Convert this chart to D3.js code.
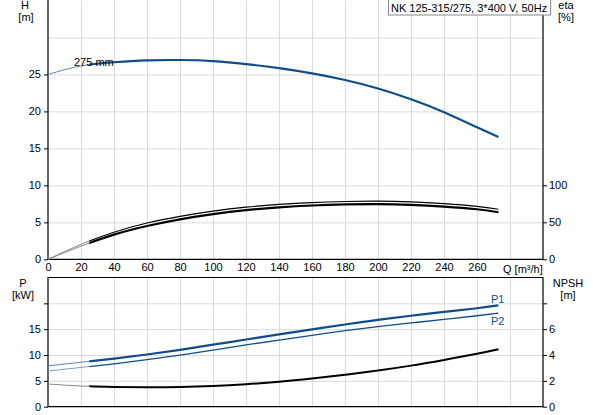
<!DOCTYPE html>
<html>
<head>
<meta charset="utf-8">
<script src="https://cdn.jsdelivr.net/npm/d3@7"></script>
<style>
  body { margin: 0; background: #fff; }
  svg { display: block; font-family: "Liberation Sans", Arial, sans-serif; }
  .grid line { stroke: #dadada; stroke-width: 1; }
  .grid path { display: none; }
  .ax path, .ax line { stroke: #000; }
  .ax text { font-size: 11px; fill: #000; }
</style>
</head>
<body>
<svg id="chart" width="593" height="415"></svg>
<script>
// curve data
const qValues   = [0, 20, 40, 60, 80, 100, 120, 140, 160, 180, 200, 220, 240, 260, 273];
const headValues = [25, 26.15, 26.65, 26.9, 26.95, 26.8, 26.4, 25.85, 25.15, 24.25, 23.1, 21.65, 19.9, 17.85, 16.55];
const etaUpper  = [0, 20.2, 36.6, 49, 58, 65, 70.4, 74.2, 76.7, 78.1, 78.5, 77.6, 75.3, 71.6, 67.6];
const etaLower  = [0, 17.8, 33.4, 45, 54, 61, 66.4, 70.2, 72.7, 74.1, 74.5, 73.6, 71.3, 67.6, 63.6];
const p1Values  = [7.9, 8.6, 9.3, 10.1, 11.0, 12.0, 13.0, 14.0, 14.95, 15.9, 16.8, 17.6, 18.35, 19.05, 19.6];
const p2Values  = [6.9, 7.6, 8.3, 9.1, 10.0, 10.95, 11.95, 12.9, 13.8, 14.7, 15.5, 16.2, 16.9, 17.6, 18.1];
const npshValues = [1.76, 1.6, 1.53, 1.5, 1.52, 1.6, 1.74, 1.93, 2.18, 2.47, 2.8, 3.18, 3.62, 4.1, 4.45];

const qTicks    = [0, 20, 40, 60, 80, 100, 120, 140, 160, 180, 200, 220, 240, 260];
const qGrid     = [20, 40, 60, 80, 100, 120, 140, 160, 180, 200, 220, 240, 260, 280];
const hTicks    = [0, 5, 10, 15, 20, 25];
const hGrid     = [5, 10, 15, 20, 25, 30];
const etaTicks  = [0, 50, 100];
const pTicks    = [0, 5, 10, 15, 20];
const npshTicks = [0, 2, 4, 6, 8];
const qMinRun = 25;   // curves are thin below this flow

const title = "NK 125-315/275, 3*400 V, 50Hz";

const svg = d3.select("#chart");
const left = 48, right = 543;

const x = d3.scaleLinear().domain([0, 300]).range([left, right]);
const yH = d3.scaleLinear().domain([0, 35]).range([259.3, 0.5]);
const yEta = d3.scaleLinear().domain([0, 100]).range([259.3, 185.3]);
const yP = d3.scaleLinear().domain([0, 25]).range([406.7, 277.5]);
const yNpsh = d3.scaleLinear().domain([0, 10]).range([406.7, 277.5]);

// grids
function drawGrid(yScale, yVals, top, bottom) {
    svg.append("g").attr("class", "grid")
        .attr("transform", `translate(0,${bottom})`)
        .call(d3.axisBottom(x).tickValues(qGrid).tickSize(-(bottom - top)).tickFormat(""));
    svg.append("g").attr("class", "grid")
        .attr("transform", `translate(${left},0)`)
        .call(d3.axisLeft(yScale).tickValues(yVals).tickSize(-(right - left)).tickFormat(""));
}
drawGrid(yH, hGrid, 0.5, 259.3);
drawGrid(yP, [5, 10, 15, 20], 277.5, 406.7);

// axes
function axis(gen, tx, ty) {
    const g = svg.append("g").attr("class", "ax")
        .attr("transform", `translate(${tx},${ty})`).call(gen);
    g.select(".domain").remove();
    return g;
}
axis(d3.axisLeft(yH).tickValues(hTicks).tickSize(4).tickPadding(3), left, 0);
axis(d3.axisRight(yEta).tickValues(etaTicks).tickSize(4).tickPadding(2), right, 0);
axis(d3.axisLeft(yP).tickValues(pTicks).tickSize(4).tickPadding(3)
    .tickFormat(d => d === 20 ? "" : d), left, 0);
axis(d3.axisRight(yNpsh).tickValues(npshTicks).tickSize(4).tickPadding(2)
    .tickFormat(d => d === 8 ? "" : d), right, 0);
axis(d3.axisBottom(x).tickValues(qTicks).tickSize(0).tickPadding(4), 0, 259.3);

// frame lines
const frame = svg.append("g").attr("stroke", "#000").attr("stroke-width", 1.2).attr("fill", "none");
frame.append("path").attr("d", `M${left},0 V259.3 H${right} V0`);
frame.append("path").attr("d", `M${left},277.5 H${right} V406.7 H${left} Z`);

// Q label in place of the 280 tick
svg.append("text").attr("x", 503).attr("y", 272.5)
    .attr("font-size", 11).text("Q [m³/h]");

// axis titles
function label(txt, cx, cy) {
    svg.append("text").attr("x", cx).attr("y", cy).attr("text-anchor", "middle")
        .attr("font-size", 11).text(txt);
}
label("H", 25, 9);
label("[m]", 26, 21);
label("eta", 566, 9);
label("[%]", 566, 21);
label("P", 23, 286.5);
label("[kW]", 23, 298.5);
label("NPSH", 568, 286.5);
label("[m]", 568, 298.5);

// curves
svg.append("clipPath").attr("id", "run")
    .append("rect").attr("x", x(qMinRun)).attr("y", 0)
    .attr("width", right - x(qMinRun)).attr("height", 415);
svg.append("clipPath").attr("id", "start")
    .append("rect").attr("x", 0).attr("y", 0)
    .attr("width", x(qMinRun)).attr("height", 415);

function curve(vals, yScale, thinColor, color, thinW, w) {
    const line = d3.line()
        .x((d, i) => x(qValues[i]))
        .y(d => yScale(d))
        .curve(d3.curveNatural);
    svg.append("path").attr("d", line(vals)).attr("fill", "none")
        .attr("stroke", thinColor).attr("stroke-width", thinW)
        .attr("clip-path", "url(#start)");
    svg.append("path").attr("d", line(vals)).attr("fill", "none")
        .attr("stroke", color).attr("stroke-width", w)
        .attr("clip-path", "url(#run)");
}
const blue = "#0e4d8a";
curve(headValues, yH, "#5f82ad", blue, 1, 2.2);
curve(etaUpper, yEta, "#888", "#000", 1, 1.2);
curve(etaLower, yEta, "#888", "#000", 1, 2.2);
curve(p1Values, yP, "#5f82ad", blue, 1, 2.2);
curve(p2Values, yP, "#7f9bbd", blue, 1, 1.3);
curve(npshValues, yNpsh, "#888", "#000", 1, 2);

// curve labels
svg.append("text").attr("x", 74).attr("y", 65.5).attr("font-size", 11).text("275 mm");
svg.append("text").attr("x", 491).attr("y", 303).attr("font-size", 11).attr("fill", blue).text("P1");
svg.append("text").attr("x", 491).attr("y", 325).attr("font-size", 11).attr("fill", blue).text("P2");

// title box
const tbox = svg.append("g");
const rect = tbox.append("rect").attr("fill", "#fff").attr("stroke", "#888");
const t = tbox.append("text").attr("x", 391).attr("y", 12).attr("font-size", 11).text(title);
const tw = t.node().getComputedTextLength();
rect.attr("x", 388.5).attr("y", -0.5).attr("width", tw + 6).attr("height", 15.5);
</script>
</body>
</html>
